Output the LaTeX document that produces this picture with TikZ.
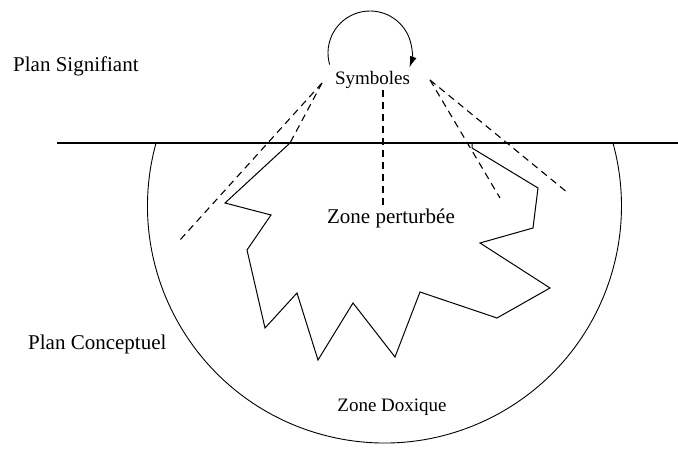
\documentclass[tikz,border=0pt]{standalone}
\usepackage{fontspec}
\setmainfont{Liberation Serif}
\usetikzlibrary{arrows.meta}

\begin{document}
\begin{tikzpicture}[x=1pt,y=1pt]

\tikzset{txt/.style = {inner sep=0pt, font=\fontsize{21}{25}\selectfont}}
\tikzset{txtsmall/.style = {inner sep=0pt, font=\fontsize{19}{23}\selectfont}}
\tikzset{dashline/.style = {line width=1.1pt, dash pattern=on 7pt off 5pt}}
\tikzset{zigzag/.style = {line width=1pt, line join=miter}}
\tikzset{ring/.style = {line width=0.9pt}}

\useasboundingbox (0,0) rectangle (678,452);

% texts
\node[txt, anchor=base west] (signif) at (13,380) {Plan Signifiant};
\node[txtsmall, anchor=base] (sym) at (372.5,367) {Symboles};
\node[txt, anchor=base] (pert) at (391,228) {Zone perturbée};
\node[txt, anchor=base west] (concept) at (28,102) {Plan Conceptuel};
\node[txtsmall, anchor=base] (doxa) at (392,40) {Zone Doxique};

% points
\coordinate (big) at (384.5,246);
\coordinate (loop) at (370,399);
\coordinate (hl) at (57,309);
\coordinate (hr) at (678,309);
\coordinate (symL) at (322,369);
\coordinate (symR) at (430,372);
\coordinate (symM) at (383,362);
\coordinate (endA) at (180,212);
\coordinate (endB) at (290,309);
\coordinate (endM) at (383,247);
\coordinate (endC) at (500,254);
\coordinate (endD) at (568,259);

% plan line
\draw[line width=1.5pt] (hl) -- (hr);

% circles
\draw[ring] (big) ++(164.6:237) arc[start angle=164.6, end angle=375.4, radius=237pt];
\draw[ring, -{Latex[length=11pt,width=7pt]}] (loop) ++(196:42) arc[start angle=196, end angle=-20, radius=42pt];

% zone perturbee
\draw[zigzag] (290,309) -- (225,249) -- (271,237) -- (247,202) -- (265,124)
  -- (297,159) -- (318,92) -- (353,149) -- (395,95) -- (420,160)
  -- (497,134) -- (550,164) -- (480,209) -- (533,224) -- (538,264)
  -- (472,304) -- (472,309);

% dashed rays
\draw[dashline] (symL) -- (endA);
\draw[dashline] (symL) -- (endB);
\draw[dashline] (symM) -- (endM);
\draw[dashline] (symR) -- (endC);
\draw[dashline] (symR) -- (endD);

\end{tikzpicture}
\end{document}
